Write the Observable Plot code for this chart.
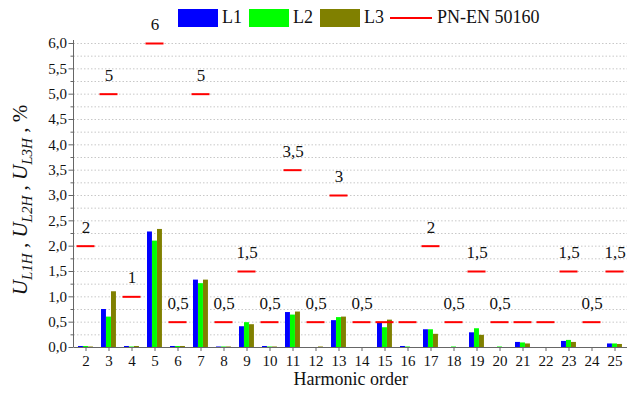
<!DOCTYPE html>
<html><head><meta charset="utf-8">
<script src="https://cdn.jsdelivr.net/npm/d3@7"></script>
<script src="https://cdn.jsdelivr.net/npm/@observablehq/plot@0.6"></script>
<style>
body{margin:0;background:#fff;font-family:'Liberation Serif','Tinos','Times New Roman','DejaVu Serif',serif;}
#wrap{position:relative;width:627px;height:394px;overflow:hidden;}
#legend{position:absolute;top:0;left:0;width:627px;height:36px;font-size:18px;color:#111;font-family:'Liberation Serif','Tinos','Times New Roman','DejaVu Serif',serif;}
#legend .sw{position:absolute;top:9px;width:40px;height:18px;box-sizing:border-box;}
#legend .lb{position:absolute;top:6px;line-height:22px;white-space:nowrap;}
#legend .ln{position:absolute;top:17px;width:42px;height:2px;background:#ff0000;}
#chart{position:absolute;top:0;left:0;}
#chart svg, #chart svg text{font-family:'Liberation Serif','Tinos','Times New Roman','DejaVu Serif',serif;}
</style></head>
<body>
<div id="wrap">
  <div id="chart"></div>
  <div id="legend"></div>
</div>
<script>
const harmonics = [2,3,4,5,6,7,8,9,10,11,12,13,14,15,16,17,18,19,20,21,22,23,24,25];
const L1 = [0.02,0.75,0.02,2.28,0.02,1.33,0.01,0.41,0.02,0.69,0.00,0.53,0.00,0.48,0.02,0.35,0.00,0.29,0.00,0.10,0.00,0.12,0.00,0.07];
const L2 = [0.02,0.60,0.01,2.10,0.02,1.26,0.01,0.49,0.01,0.64,0.00,0.59,0.00,0.39,0.01,0.35,0.01,0.37,0.01,0.09,0.00,0.14,0.00,0.07];
const L3 = [0.01,1.10,0.02,2.33,0.02,1.33,0.01,0.45,0.01,0.70,0.01,0.60,0.00,0.54,0.00,0.26,0.00,0.24,0.00,0.07,0.00,0.10,0.00,0.06];
const limits = [2,5,1,6,0.5,5,0.5,1.5,0.5,3.5,0.5,3,0.5,0.5,0.5,2,0.5,1.5,0.5,0.5,0.5,1.5,0.5,1.5];
const limitLabels = ["2","5","1","6","0,5","5","0,5","1,5","0,5","3,5","0,5","3","0,5","","","2","0,5","1,5","0,5","","","1,5","0,5","1,5"];
const yMajorTicks = [0,0.5,1,1.5,2,2.5,3,3.5,4,4.5,5,5.5,6];
const yMinorTicks = [0.25,0.75,1.25,1.75,2.25,2.75,3.25,3.75,4.25,4.75,5.25,5.75];
const yGrid = [0.25,0.5,0.75,1,1.25,1.5,1.75,2,2.25,2.5,2.75,3,3.25,3.5,3.75,4,4.25,4.5,4.75,5,5.25,5.5,5.75,6];
const seriesNames = ["L1","L2","L3"];
const seriesColors = ["#0000ff","#00ff00","#808000"];
const limitName = "PN-EN 50160";
const xTitle = "Harmonic order";

const rows = harmonics.map((h,i)=>({h, L1:L1[i], L2:L2[i], L3:L3[i], limit:limits[i], label:limitLabels[i]}));
const fmt = d => d.toFixed(1).replace(".", ",");
const FONT = "'Liberation Serif','Tinos','Times New Roman','DejaVu Serif',serif";

const plot = Plot.plot({
  width: 627, height: 394,
  marginLeft: 73.5, marginRight: 0, marginTop: 43, marginBottom: 47,
  style: {fontFamily: FONT, background: "transparent", color: "#111"},
  x: {type: "band", domain: harmonics, padding: 0, axis: null},
  y: {domain: [0, 6], axis: null},
  marks: [
    Plot.gridY(yGrid, {stroke: "#c8c8c8", strokeOpacity: 1, strokeDasharray: "1.5,2"}),
    Plot.barY(rows, {x: "h", y: "L1", fill: seriesColors[0], insetLeft: 4, insetRight: 14.06}),
    Plot.barY(rows, {x: "h", y: "L2", fill: seriesColors[1], insetLeft: 9, insetRight: 9.06}),
    Plot.barY(rows, {x: "h", y: "L3", fill: seriesColors[2], insetLeft: 14, insetRight: 4.06}),
    Plot.tickY(rows, {x: "h", y: "limit", stroke: "#ff0000", strokeWidth: 2, insetLeft: 2.5, insetRight: 2.5}),
    Plot.text(rows.filter(d => d.label), {x: "h", y: "limit", text: "label", dy: -19, fontSize: 17, fill: "#111"}),
    Plot.ruleY([0], {stroke: "#666"}),
    Plot.axisY(yMajorTicks, {tickFormat: fmt, tickSize: 5, tickPadding: 2, fontSize: 15, stroke: "#666", fill: "#111", label: null}),
    Plot.axisY(yMinorTicks, {tickFormat: () => "", tickSize: 3, stroke: "#666", label: null}),
    Plot.axisX({tickSize: 4, tickPadding: 4, fontSize: 15, stroke: "#666", fill: "#111", label: null}),
    Plot.text([xTitle], {frameAnchor: "bottom", dy: 37, fontSize: 18, fill: "#111"})
  ]
});
document.getElementById("chart").appendChild(plot);

// left axis line
const svg = d3.select(plot);
svg.append("line").attr("x1", 73.5).attr("x2", 73.5).attr("y1", 40).attr("y2", 347)
  .attr("stroke", "#666").attr("stroke-width", 1);

// y axis title with subscripts
const t = svg.append("text")
  .attr("transform", "translate(27,200) rotate(-90)")
  .attr("text-anchor", "middle")
  .attr("font-family", FONT).attr("font-size", 21).attr("fill", "#111");
const parts = [["U","L1H"],["U","L2H"],["U","L3H"]];
parts.forEach(([u, sub], i) => {
  t.append("tspan").attr("font-style", "italic").text(u);
  t.append("tspan").attr("font-style", "italic").attr("font-size", 15).attr("dy", 5).text(sub);
  t.append("tspan").attr("dy", -5).text(i < parts.length - 1 ? " , " : " , %");
});

// legend
const legend = document.getElementById("legend");
const swX = [178, 249, 320];
seriesNames.forEach((n, i) => {
  const s = document.createElement("div");
  s.className = "sw"; s.style.left = swX[i] + "px"; s.style.background = seriesColors[i];
  legend.appendChild(s);
  const l = document.createElement("div");
  l.className = "lb"; l.style.left = (swX[i] + 44) + "px"; l.textContent = n;
  legend.appendChild(l);
});
const ln = document.createElement("div"); ln.className = "ln"; ln.style.left = "390px"; legend.appendChild(ln);
const ll = document.createElement("div"); ll.className = "lb"; ll.style.left = "437px"; ll.textContent = limitName; legend.appendChild(ll);
</script>
</body></html>
